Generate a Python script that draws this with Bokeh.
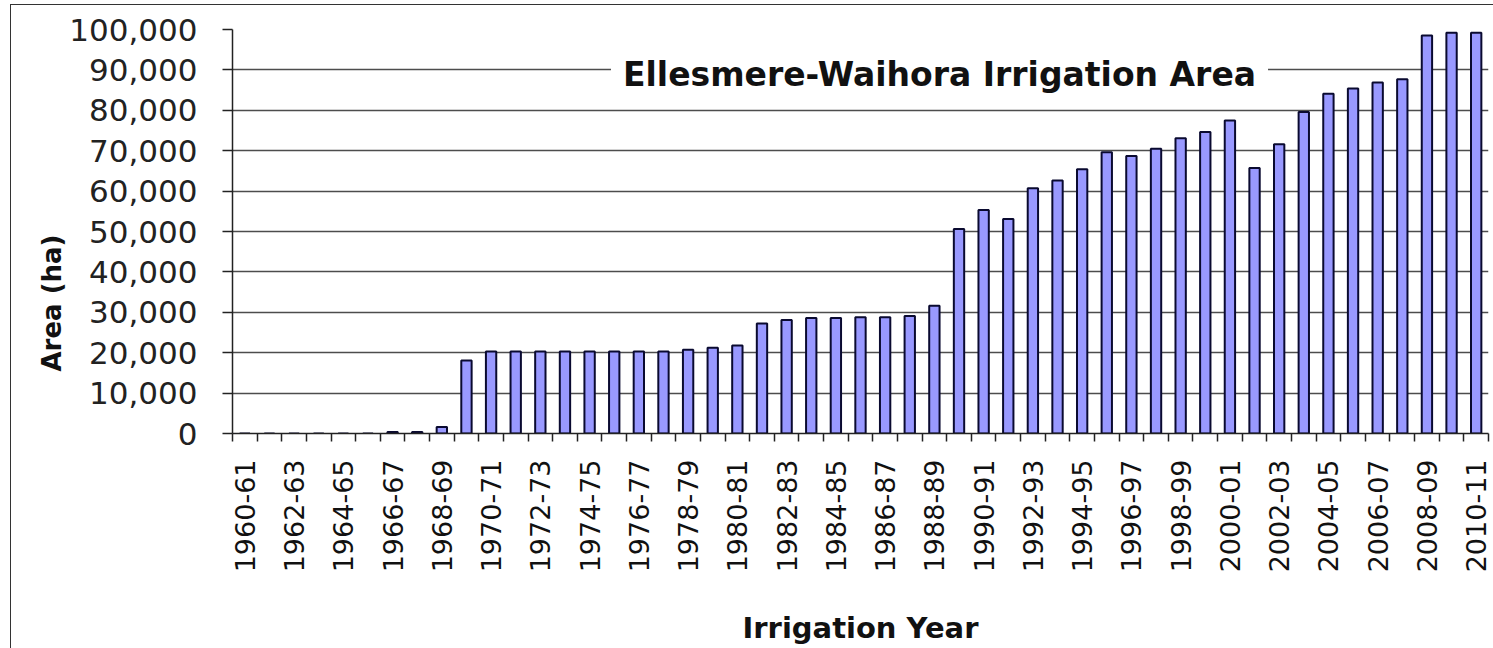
import math
from bokeh.plotting import figure
from bokeh.models import Range1d, FixedTicker, NumeralTickFormatter, Label, Title, ColumnDataSource
from bokeh.embed import file_html
from bokeh.resources import INLINE

years = [f"{y}-{str(y + 1)[-2:]}" for y in range(1960, 2011)]
area = [0, 0, 0, 0, 0, 0, 400, 400, 1600, 18100,
        20300, 20300, 20300, 20300, 20300, 20300, 20300, 20300, 20700, 21200,
        21800, 27200, 28100, 28600, 28600, 28800, 28800, 29100, 31600, 50600,
        55300, 53100, 60700, 62600, 65400, 69600, 68700, 70500, 73100, 74600,
        77500, 65700, 71600, 79600, 84100, 85400, 86900, 87700, 98500, 99200,
        99200]
title_text = "Ellesmere-Waihora Irrigation Area"
x_title = "Irrigation Year"
y_title = "Area (ha)"

idx = list(range(len(years)))
src = ColumnDataSource(dict(x=idx, top=area))

p = figure(width=1493, height=648, output_backend="svg", toolbar_location=None,
           x_range=Range1d(-0.5, len(years) - 0.5), y_range=Range1d(0, 100000),
           min_border_left=232, min_border_top=29, min_border_bottom=214, min_border_right=5)
p.styles = {
    "background-color": "white",
    "background-image": "linear-gradient(#333333,#333333), linear-gradient(#333333,#333333)",
    "background-size": "1px 100%, 100% 1px",
    "background-position": "10px 4px, 10px 4px",
    "background-repeat": "no-repeat",
}
p.outline_line_color = None
p.background_fill_color = "white"
p.border_fill_color = None

p.vbar(x="x", top="top", width=0.42, source=src, fill_color="#9999FF",
       line_color="#0a0a30", line_width=2)

# x axis
xa = p.xaxis[0]
major = idx[::2]
xa.ticker = FixedTicker(ticks=major, minor_ticks=[i - 0.5 for i in range(len(years) + 1)])
xa.major_label_overrides = {i: years[i] for i in major}
xa.major_label_orientation = math.pi / 2
xa.major_tick_out = 0
xa.major_tick_in = 0
xa.minor_tick_out = 8
xa.minor_tick_in = 0
xa.minor_tick_line_color = "#222222"
xa.minor_tick_line_width = 1.5
xa.axis_line_color = "#222222"
xa.axis_line_width = 1.5
xa.major_label_standoff = 18
xa.major_label_text_font = "DejaVu Sans"
xa.major_label_text_font_size = "27px"
xa.major_label_text_color = "#111111"
xa.axis_label = x_title
xa.axis_label_text_font = "DejaVu Sans"
xa.axis_label_text_font_style = "bold"
xa.axis_label_text_font_size = "29px"
xa.axis_label_text_color = "#111111"
xa.axis_label_standoff = 36

# y axis
ya = p.yaxis[0]
ya.ticker = FixedTicker(ticks=list(range(0, 100001, 10000)))
ya.formatter = NumeralTickFormatter(format="0,0")
ya.major_tick_out = 10
ya.major_tick_in = 0
ya.minor_tick_out = 0
ya.minor_tick_in = 0
ya.axis_line_color = "#222222"
ya.axis_line_width = 1.5
ya.major_tick_line_color = "#222222"
ya.major_tick_line_width = 1.5
ya.major_label_standoff = 25
ya.major_label_text_font = "DejaVu Sans"
ya.major_label_text_font_size = "31px"
ya.major_label_text_color = "#222222"

p.xgrid.grid_line_color = None
p.ygrid.grid_line_color = "#4d4d4d"
p.ygrid.grid_line_width = 1.3

ytitle = Title(text=y_title, align="left", offset=62, standoff=0,
               text_font="DejaVu Sans", text_font_style="bold", text_font_size="26px",
               text_color="#111111")
p.add_layout(ytitle, "left")

tlab = Label(x=707, y=359, x_units="screen", y_units="screen", text=title_text,
             text_align="center", text_baseline="middle",
             text_font="DejaVu Sans", text_font_style="bold", text_font_size="33px",
             text_color="#111111", background_fill_color="white", padding=12)
p.add_layout(tlab)

open("out.html", "w").write(file_html(p, INLINE))
